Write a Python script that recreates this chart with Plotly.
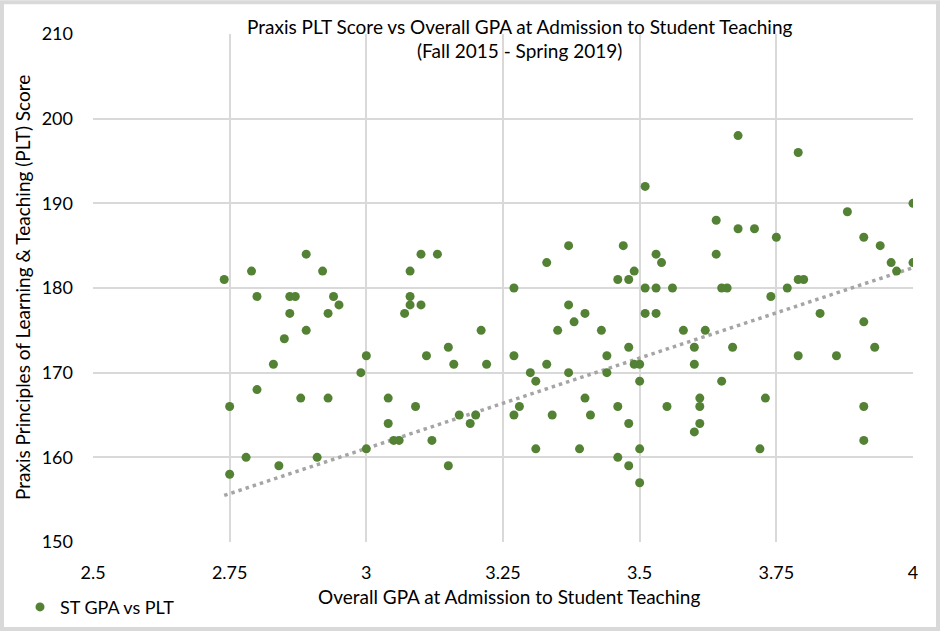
import plotly.graph_objects as go

# ---- data ----
gpa = [
    2.74, 2.79, 2.89, 2.92, 2.80, 2.86, 2.87, 2.94, 2.95, 2.86, 2.93, 2.89, 2.85,
    2.83, 3.00, 2.99, 2.80, 2.88, 2.93, 2.75, 2.78, 2.84, 2.91, 3.00, 2.75,
    3.10, 3.13, 3.08, 3.08, 3.08, 3.10, 3.07, 3.21, 3.15, 3.11, 3.16, 3.22,
    3.04, 3.09, 3.17, 3.20, 3.19, 3.04, 3.05, 3.06, 3.12, 3.15,
    3.27, 3.27, 3.30, 3.31, 3.28, 3.27, 3.31, 3.33, 3.37, 3.47, 3.49, 3.46,
    3.48, 3.37, 3.40, 3.38, 3.35, 3.43, 3.48, 3.44, 3.33, 3.49, 3.50, 3.37,
    3.44, 3.50, 3.40, 3.34, 3.41, 3.46, 3.48, 3.39, 3.50, 3.46, 3.48, 3.50,
    3.51, 3.53, 3.54, 3.51, 3.53, 3.56, 3.51, 3.53, 3.55, 3.68, 3.64, 3.68,
    3.71, 3.64, 3.65, 3.66, 3.74, 3.58, 3.62, 3.60, 3.67, 3.60, 3.65, 3.61,
    3.73, 3.61, 3.61, 3.60, 3.72,
    3.75, 3.79, 4.00, 3.88, 3.91, 3.94, 3.96, 4.00, 3.97, 3.79, 3.80, 3.77,
    3.83, 3.91, 3.93, 3.79, 3.86, 3.91, 3.91,
]
plt_score = [
    181, 182, 184, 182, 179, 179, 179, 179, 178, 177, 177, 175, 174,
    171, 172, 170, 168, 167, 167, 166, 160, 159, 160, 161, 158,
    184, 184, 182, 179, 178, 178, 177, 175, 173, 172, 171, 171,
    167, 166, 165, 165, 164, 164, 162, 162, 162, 159,
    180, 172, 170, 169, 166, 165, 161, 183, 185, 185, 182, 181,
    181, 178, 177, 176, 175, 175, 173, 172, 171, 171, 171, 170,
    170, 169, 167, 165, 165, 166, 164, 161, 161, 160, 159, 157,
    192, 184, 183, 180, 180, 180, 177, 177, 166, 198, 188, 187,
    187, 184, 180, 180, 179, 175, 175, 173, 173, 171, 169, 167,
    167, 166, 164, 163, 161,
    186, 196, 190, 189, 186, 185, 183, 183, 182, 181, 181, 180,
    177, 176, 173, 172, 172, 166, 162,
]
# linear trendline end points as drawn in the reference
trend_gpa = [2.74, 4.00]
trend_score = [155.5, 182.4]

x_ticks = [2.5, 2.75, 3.0, 3.25, 3.5, 3.75, 4.0]
x_tick_labels = ["2.5", "2.75", "3", "3.25", "3.5", "3.75", "4"]
y_ticks = [150, 160, 170, 180, 190, 200, 210]

title_line1 = "Praxis PLT Score vs Overall GPA at Admission to Student Teaching"
title_line2 = "(Fall 2015 - Spring 2019)"
x_title = "Overall GPA at Admission to Student Teaching"
y_title = "Praxis Principles of Learning &amp; Teaching (PLT) Score"
series_name = "ST GPA vs PLT"

FONT = "Lato, 'Liberation Sans', sans-serif"
FS = 19
FS_TICK = 18
W, H = 940, 638
L, R, T, B = 93, 27, 34, 90
PW, PH = W - L - R, H - T - B


def px(xp):
    return (xp - L) / PW


def py(yp):
    return (H - B - yp) / PH


fig = go.Figure()
fig.add_trace(go.Scatter(
    x=trend_gpa, y=trend_score, mode="lines", showlegend=False,
    line=dict(color="#a5a5a5", width=3.5, dash="3.5px,4px"),
    hoverinfo="skip",
))
fig.add_trace(go.Scatter(
    x=gpa, y=plt_score, mode="markers", name=series_name,
    marker=dict(color="#548235", size=9, line=dict(width=0)),
))

fig.update_layout(
    width=W, height=H,
    margin=dict(l=L, r=R, t=T, b=B),
    paper_bgcolor="white", plot_bgcolor="white",
    font=dict(family=FONT, size=FS, color="#000000"),
    showlegend=True,
    legend=dict(x=px(20), y=py(614), xanchor="left", yanchor="middle",
                font=dict(size=FS_TICK), bgcolor="rgba(0,0,0,0)",
                itemwidth=30, tracegroupgap=0),
    xaxis=dict(range=[2.5, 4.0], tickvals=x_ticks, ticktext=x_tick_labels,
               showgrid=True, gridcolor="#d9d9d9", gridwidth=1.5,
               zeroline=False, showline=False, ticks="",
               tickfont=dict(size=FS_TICK),
               ticklabelstandoff=18, fixedrange=True),
    yaxis=dict(range=[150, 210], tickvals=y_ticks,
               showgrid=True, gridcolor="#d9d9d9", gridwidth=1.5,
               zeroline=False, showline=False, ticks="",
               tickfont=dict(size=FS_TICK),
               ticklabelstandoff=19, fixedrange=True),
    annotations=[
        dict(text=title_line1, x=px(519), y=py(26), xref="paper", yref="paper",
             xanchor="center", yanchor="middle", showarrow=False,
             font=dict(size=FS)),
        dict(text=title_line2, x=px(519), y=py(51), xref="paper", yref="paper",
             xanchor="center", yanchor="middle", showarrow=False,
             font=dict(size=FS)),
        dict(text=x_title, x=px(509), y=py(603), xref="paper", yref="paper",
             xanchor="center", yanchor="middle", showarrow=False,
             font=dict(size=FS)),
        dict(text=y_title, x=px(22), y=0.5, xref="paper", yref="paper",
             xanchor="center", yanchor="middle", showarrow=False,
             textangle=-90, font=dict(size=FS)),
    ],
    shapes=[
        dict(type="rect", xref="paper", yref="paper",
             x0=px(2), x1=px(W - 2), y0=py(H - 2), y1=py(2),
             line=dict(color="#d9d9d9", width=4), fillcolor="rgba(0,0,0,0)",
             layer="above"),
    ],
)

fig.write_html(
    "out.html",
    config={"displayModeBar": False},
    post_script="document.body.style.margin='0';document.body.style.overflow='hidden';",
)
